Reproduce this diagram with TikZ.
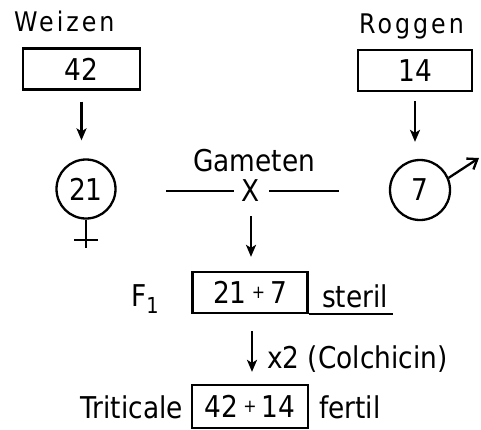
\documentclass[tikz,border=0pt]{standalone}
\usepackage{fontspec}
\setmainfont{DejaVu Sans}[FakeStretch=0.88]
\usetikzlibrary{arrows.meta}

\newcommand{\kleinplus}{{\fontsize{18}{18}\selectfont\ \raisebox{5pt}{+}\ }}

\begin{document}
\begin{tikzpicture}[x=1pt, y=-1pt, line width=2.3pt,
  every node/.style={font=\fontsize{30}{34}\selectfont, inner sep=0pt},
  kasten/.style={draw, minimum width=115pt, minimum height=41pt},
  kreis/.style={draw, circle, minimum size=59pt},
  pfeil/.style={-{Stealth[length=12pt, width=10pt, inset=3pt]}},
  sorte/.style={font=\fontsize{27}{30}\selectfont\addfontfeature{LetterSpace=11}}]
  \useasboundingbox (0,0) rectangle (481,429);
  % Weizen
  \node[sorte, anchor=base west] (weizen) at (13,31) {Weizen};
  \node[kasten, minimum width=117pt] (wbox) at (81.5,69) {42};
  \node[kreis] (wkreis) at (86,189) {21};
  \draw[pfeil, shorten <=11pt, shorten >=18pt] (wbox.south) -- (wbox.south |- wkreis.north);
  \draw (wkreis.south) -- ++(0,28);
  \draw ([shift={(-12,20)}]wkreis.south) -- ++(24,0);
  % Roggen
  \node[sorte, anchor=base west] (roggen) at (358,33) {Roggen};
  \node[kasten, minimum width=114pt] (rbox) at (415,70.5) {14};
  \node[kreis, minimum size=60pt] (rkreis) at (420,190) {7};
  \draw[pfeil, shorten <=9pt, shorten >=17pt] (rbox.south) -- (rbox.south |- rkreis.north);
  \coordinate (mspitze) at (479,158);
  \draw[-{Straight Barb[length=9pt, width=13pt]}] (rkreis.23) -- (mspitze);
  % Gameten
  \node[anchor=base west] (gameten) at (192,171) {Gameten};
  \node (kreuz) at (251,191) {X};
  \draw ([xshift=-7pt]kreuz.west) -- ++(-68,0);
  \draw ([xshift=8pt]kreuz.east) -- ++(70,0);
  % F1
  \node[kasten] (fbox) at (250,292.5) {21\kleinplus 7};
  \node[anchor=base west] (fname) at (130,306) {F\raisebox{-7pt}{\fontsize{22}{22}\selectfont 1}};
  \node[anchor=base west] (steril) at (321,307) {steril};
  \draw (fbox.south east) -- ([xshift=4pt]fbox.south east -| steril.east);
  \draw[pfeil, shorten <=13pt, shorten >=14pt] (kreuz.south) -- (kreuz.south |- fbox.north);
  % Triticale
  \node[kasten, minimum width=116pt, minimum height=43pt] (tbox) at (250,406.5) {42\kleinplus 14};
  \node[anchor=base east] (triticale) at (184,418) {Triticale};
  \node[anchor=base west] (fertil) at (318,418) {fertil};
  \draw[pfeil, shorten <=17pt, shorten >=12pt] ([xshift=2pt]fbox.south) -- ([xshift=2pt]fbox.south |- tbox.north);
  \node[anchor=base west] (colch) at (266,368) {x2 (Colchicin)};
\end{tikzpicture}
\end{document}
